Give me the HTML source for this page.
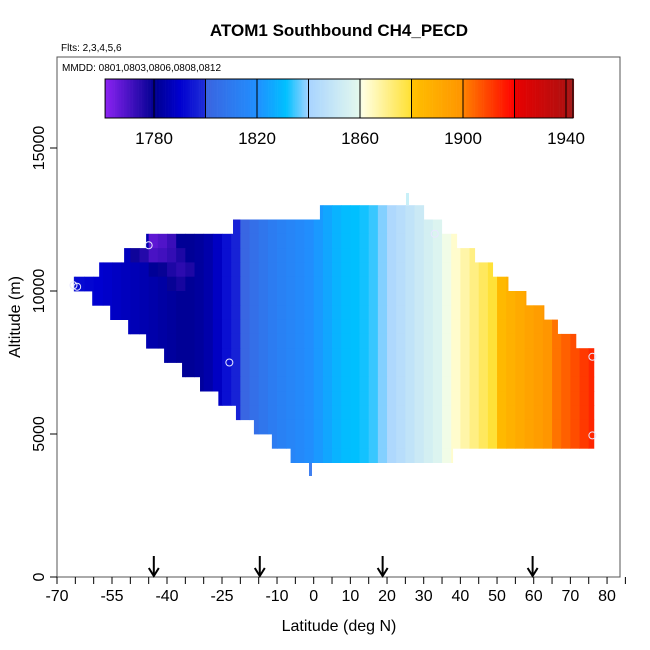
<!DOCTYPE html>
<html><head><meta charset="utf-8"><style>
body{margin:0;background:#fff}
svg{display:block;font-family:"Liberation Sans",Arial,sans-serif}
</style></head><body>
<svg id="chart" width="650" height="650" viewBox="0 0 650 650">
<text x="339" y="36" text-anchor="middle" font-size="17" font-weight="bold">ATOM1 Southbound CH4_PECD</text>
<text x="61" y="51" font-size="10">Flts: 2,3,4,5,6</text>
<g id="cells"></g>
<g id="marks"></g>
<rect x="57" y="57" width="563" height="520" fill="none" stroke="#555" stroke-width="1"/>
<text x="62" y="71" font-size="10">MMDD: 0801,0803,0806,0808,0812</text>
<g id="cbar"></g>
<g id="xaxis"></g>
<g id="yaxis"></g>
<text x="339" y="631" text-anchor="middle" font-size="16">Latitude (deg N)</text>
<text transform="translate(20,317) rotate(-90)" text-anchor="middle" font-size="16">Altitude (m)</text>
</svg>
<script>
const latBins = [-67.5,-65,-62.5,-60,-57.5,-55,-52.5,-50,-47.5,-45,-42.5,-40,-37.5,-35,-32.5,-30,-27.5,-25,-22.5,-20,-17.5,-15,-12.5,-10,-7.5,-5,-2.5,0,2.5,5,7.5,10,12.5,15,17.5,20,22.5,25,27.5,30,32.5,35,37.5,40,42.5,45,47.5,50,52.5,55,57.5,60,62.5,65,67.5,70,72.5,75];
const ch4Values = [1793,1792,1791,1790,1789,1788,1787,1786,1785,1784,1783,1782,1781,1781,1782,1784,1788,1793,1797,1801,1805,1808,1811,1813,1815,1817,1819,1822,1825,1828,1830,1831,1832,1834,1838,1842,1845,1848,1851,1854,1857,1860,1863,1867,1871,1875,1879,1883,1887,1890,1893,1896,1899,1902,1905,1908,1911,1914];
const rowBottoms = [12500,12000,11500,11000,10500,10000,9500,9000,8500,8000,7500,7000,6500,6000,5500,5000,4500,4000];
const rowLeft = [1.7,-22,-45.7,-51.7,-58.5,-65.4,-60.4,-55.5,-50.6,-45.7,-40.8,-35.9,-31,-26,-21.2,-16.3,-11.4,-6.3];
const rowRight = [30,34.9,39,43.9,48.8,53,57.9,62.8,66.5,71.5,76.4,76.4,76.4,76.4,76.4,76.4,76.4,37.9];
const anomLat = [-45,-42.5,-40,-50,-47.5,-45,-42.5,-40,-37.5,-45,-42.5,-40,-37.5,-35,-40,-37.5];
const anomAlt = [11500,11500,11500,11000,11000,11000,11000,11000,11000,10500,10500,10500,10500,10500,10000,10000];
const anomVal = [1767,1769,1772,1778,1775,1770,1771,1773,1776,1781,1779,1776,1774,1776,1779,1777];
const markLat = [-45,-65.5,-64.5,-23,33,76,76];
const markAlt = [11600,10200,10150,7500,12000,7700,4950];
const arrowLat = [-43.6,-14.7,18.8,59.7];
const xTicks = [-70,-55,-40,-25,-10,0,10,20,30,40,50,60,70,80];
const yTicks = [0,5000,10000,15000];
const cbLines = [1780,1800,1820,1840,1860,1880,1900,1920,1940];
const cbLabels = [1780,1820,1860,1900,1940];
const cbStops = [[1761,'#8a22f2'],[1780,'#000090'],[1790,'#0000d0'],[1799.9,'#2030d8'],[1800,'#3a64e0'],[1820,'#2090ff'],[1831,'#00c0ff'],[1840,'#a8d4ff'],[1859,'#e2f8ee'],[1861,'#ffffe0'],[1879.9,'#ffe030'],[1880,'#ffc000'],[1899.9,'#ff9400'],[1900,'#ff8000'],[1919.9,'#ff0000'],[1920,'#e80000'],[1939.9,'#b01010'],[1943,'#a02020']];

const NS='http://www.w3.org/2000/svg';
const xs = lat => 57 + (lat + 70) * 3.667;
const ys = alt => 577 - alt * 0.0286;
const cx = v => 154 + (v - 1780) * 2.575;
function hex(h){return [1,3,5].map(i=>parseInt(h.substr(i,2),16));}
function color(v){
  if(v<=cbStops[0][0])return cbStops[0][1];
  for(let i=1;i<cbStops.length;i++){
    if(v<=cbStops[i][0]){
      const a=hex(cbStops[i-1][1]),b=hex(cbStops[i][1]);
      const t=(v-cbStops[i-1][0])/(cbStops[i][0]-cbStops[i-1][0]);
      return 'rgb('+a.map((c,k)=>Math.round(c+(b[k]-c)*t)).join(',')+')';
    }
  }
  return cbStops[cbStops.length-1][1];
}
function mk(tag,attrs,parent){const e=document.createElementNS(NS,tag);for(const k in attrs)e.setAttribute(k,attrs[k]);parent.appendChild(e);return e;}

const cells=document.getElementById('cells');
rowBottoms.forEach((bot,r)=>{
  latBins.forEach((lb,i)=>{
    const l=Math.max(lb,rowLeft[r]),rt=Math.min(lb+2.5,rowRight[r]);
    if(rt<=l)return;
    let v=ch4Values[i];
    anomLat.forEach((al,k)=>{if(al===lb&&anomAlt[k]===bot)v=anomVal[k];});
    const e=mk('rect',{x:xs(l),y:ys(bot+500),width:xs(rt)-xs(l)+0.4,height:ys(bot)-ys(bot+500)+0.4,fill:color(v)},cells);
    
    
  });
});
const marks=document.getElementById('marks');
markLat.forEach((la,i)=>{
  const e=mk('circle',{cx:xs(la),cy:ys(markAlt[i]),r:3.5,fill:'none',stroke:'#e8e8ff','stroke-width':1},marks);
  
  
});
mk('rect',{x:406,y:193,width:3,height:12,fill:'#c8f0f8'},marks);
mk('rect',{x:309,y:463,width:3,height:13,fill:'#4080f0'},marks);

const xa=document.getElementById('xaxis');
for(let t=-70;t<=85;t+=5){mk('line',{x1:xs(t),x2:xs(t),y1:577,y2:584,stroke:'#000'},xa);}
xTicks.forEach(t=>{
  const e=mk('text',{x:xs(t),y:601,'text-anchor':'middle','font-size':16},xa);e.textContent=t;
  
  
});
arrowLat.forEach(la=>{
  const x=xs(la);
  const g=mk('g',{},xa);
  
  
  mk('line',{x1:x,x2:x,y1:556,y2:575,stroke:'#000','stroke-width':2},g);
  mk('path',{d:`M${x-5},${568} L${x},${576} L${x+5},${568}`,fill:'none',stroke:'#000','stroke-width':2},g);
});
const ya=document.getElementById('yaxis');
yTicks.forEach(t=>{
  mk('line',{x1:50,x2:57,y1:ys(t),y2:ys(t),stroke:'#000'},ya);
  const e=mk('text',{transform:`translate(44,${ys(t)}) rotate(-90)`,'text-anchor':'middle','font-size':16},ya);e.textContent=t;
  
  
});
const cb=document.getElementById('cbar');
for(let v=1761;v<1942.7;v+=0.5){mk('rect',{x:cx(v),y:79,width:1.6,height:39,fill:color(v)},cb);}
cbLines.forEach(t=>{mk('line',{x1:cx(t),x2:cx(t),y1:79,y2:118,stroke:'#000'},cb);});
mk('rect',{x:cx(1761),y:79,width:cx(1942.7)-cx(1761),height:39,fill:'none',stroke:'#000'},cb);
cbLabels.forEach(t=>{
  const e=mk('text',{x:cx(t),y:144,'text-anchor':'middle','font-size':17},cb);e.textContent=t;
  
  
});
</script>
</body></html>
